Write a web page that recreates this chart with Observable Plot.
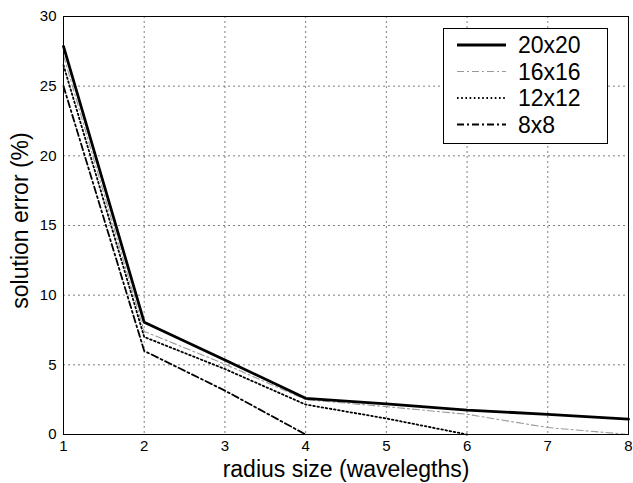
<!DOCTYPE html>
<html><head><meta charset="utf-8">
<script src="https://cdn.jsdelivr.net/npm/d3@7"></script>
<script src="https://cdn.jsdelivr.net/npm/@observablehq/plot@0.6"></script>
<style>
body{margin:0;background:#fff;font-family:"Liberation Sans",Arial,sans-serif;}
#wrap{position:relative;width:633px;height:483px;}
#legend{position:absolute;left:443px;top:28px;}
</style></head>
<body><div id="wrap"><div id="chart"></div><svg id="legend" width="165" height="116"></svg></div>
<script>
const radius = [1, 2, 3, 4, 5, 6, 7, 8];
const err20 = [27.85, 8.05, 5.35, 2.6, 2.2, 1.75, 1.45, 1.1];
const err16 = [27.2, 7.4, 5.05, 2.5, 2.0, 1.45, 0.5, 0];
const err12 = [26.5, 7.0, 4.7, 2.15, 1.15, 0, null, null];
const err8  = [25.0, 6.0, 3.15, 0, null, null, null, null];
const seriesNames = ["20x20", "16x16", "12x12", "8x8"];
const yTicks = [0, 5, 10, 15, 20, 25, 30];
const xTicks = [1, 2, 3, 4, 5, 6, 7, 8];

const styles = {
  "20x20": {stroke: "#000", strokeWidth: 2.8, dash: null},
  "16x16": {stroke: "#9a9a9a", strokeWidth: 1.1, dash: "7,3,2,3"},
  "12x12": {stroke: "#000", strokeWidth: 1.8, dash: "1.6,2.6"},
  "8x8":   {stroke: "#000", strokeWidth: 1.8, dash: "7,3,2,3"}
};
const allVals = [err20, err16, err12, err8];
const data = [];
seriesNames.forEach((s, i) => radius.forEach((r, j) => {
  if (allVals[i][j] != null) data.push({series: s, r, e: allVals[i][j]});
}));

const lineMarks = seriesNames.map(s => Plot.line(data.filter(d => d.series === s), {
  x: "r", y: "e", stroke: styles[s].stroke, strokeWidth: styles[s].strokeWidth,
  strokeDasharray: styles[s].dash, strokeLinejoin: "miter"
}));

const chart = Plot.plot({
  width: 633, height: 483,
  marginLeft: 63, marginRight: 5, marginTop: 16, marginBottom: 49,
  style: {fontFamily: "'Liberation Sans', Arial, sans-serif", background: "#fff"},
  x: {domain: [1, 8]},
  y: {domain: [0, 30]},
  marks: [
    Plot.ruleX(xTicks.slice(1, -1), {stroke: "#000", strokeOpacity: 0.5, strokeDasharray: "2,3"}),
    Plot.ruleY(yTicks.slice(1, -1), {stroke: "#000", strokeOpacity: 0.5, strokeDasharray: "2,3"}),
    ...lineMarks.reverse(),
    Plot.frame({stroke: "#000", strokeWidth: 1}),
    Plot.axisX(xTicks, {tickSize: 0, tickPadding: 6, fontSize: 15, label: null, fill: "#000"}),
    Plot.axisY(yTicks, {tickSize: 0, tickPadding: 7, fontSize: 15, label: null, fill: "#000"}),
    Plot.text(["radius size (wavelegths)"], {frameAnchor: "bottom", lineAnchor: "bottom", dy: 42, fontSize: 23, fill: "#000"}),
    Plot.text(["solution error (%)"], {frameAnchor: "left", textAnchor: "middle", dx: -43, dy: -5, rotate: -90, fontSize: 23, fill: "#000"})
  ]
});
document.getElementById("chart").appendChild(chart);

// legend
const lg = d3.select("#legend");
lg.append("rect").attr("x", 0.5).attr("y", 0.5).attr("width", 164).attr("height", 115)
  .attr("fill", "#fff").attr("stroke", "#000");
seriesNames.forEach((s, i) => {
  const y = 17 + i * 26.5;
  lg.append("line").attr("x1", 14).attr("x2", 63).attr("y1", y).attr("y2", y)
    .attr("stroke", styles[s].stroke).attr("stroke-width", styles[s].strokeWidth)
    .attr("stroke-dasharray", styles[s].dash);
  lg.append("text").attr("x", 75).attr("y", y + 8).attr("font-size", 23)
    .attr("font-family", "'Liberation Sans', Arial, sans-serif").text(s);
});
</script></body></html>
